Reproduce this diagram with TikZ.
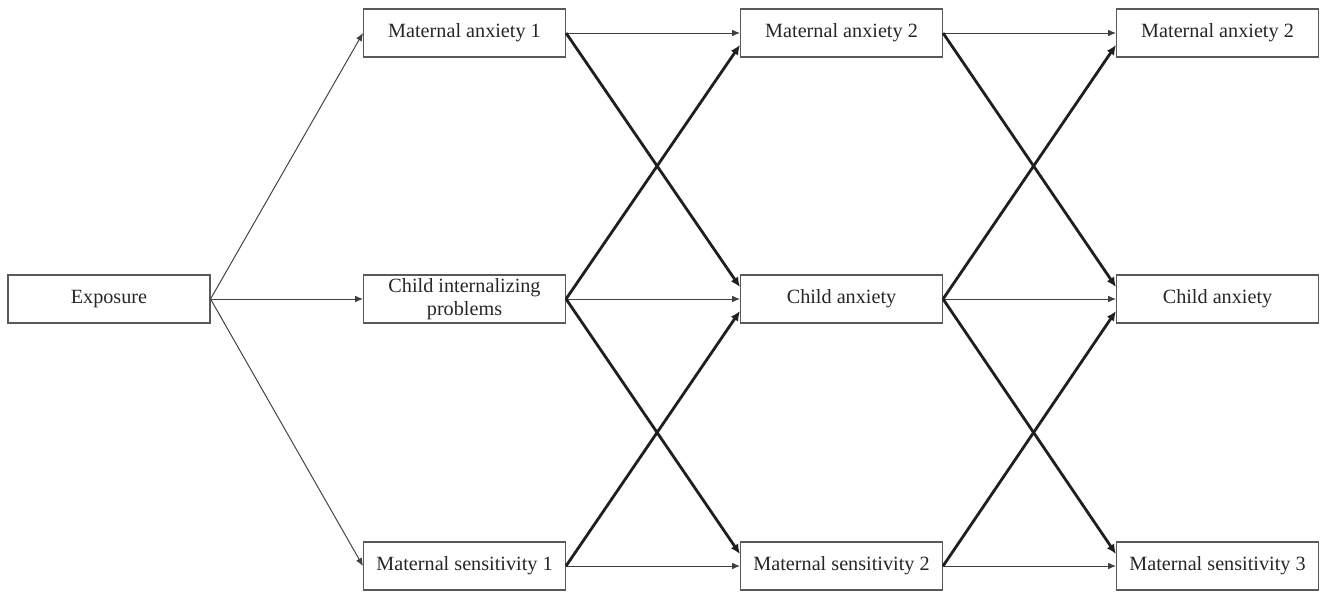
\documentclass[tikz,border=0pt]{standalone}
\usepackage{fontspec}
\setmainfont{Liberation Serif}
\usetikzlibrary{arrows.meta}

\begin{document}
\begin{tikzpicture}[
	x=0.2mm, y=-0.2mm,
	box/.style={ draw=black!65, line width=0.6pt, text=black!85, minimum width=4.04cm, minimum height=0.96cm, inner sep=1pt, align=center, font=\fontsize{11.5}{13}\selectfont },
	lag/.style={ draw=black!75, line width=0.55pt, -{Latex[length=4.5pt,width=3.8pt]} },
	cross/.style={ draw=black!88, line width=1.6pt, -{Latex[length=5.5pt,width=5pt]} }
]
\useasboundingbox (0,0) rectangle (1320,592);

\node at (109,299) (expo) [box] {Exposure};

\node at (464.5,33) (ma1) [box] {Maternal anxiety 1};
\node at (464.5,299) (cip) [box] {Child internalizing\\problems};
\node at (464.5,566) (ms1) [box] {Maternal sensitivity 1};

\node at (841.5,33) (ma2) [box] {Maternal anxiety 2};
\node at (841.5,299) (ca2) [box] {Child anxiety};
\node at (841.5,566) (ms2) [box] {Maternal sensitivity 2};

\node at (1217.5,33) (ma3) [box] {Maternal anxiety 2};
\node at (1217.5,299) (ca3) [box] {Child anxiety};
\node at (1217.5,566) (ms3) [box] {Maternal sensitivity 3};

\foreach \p in {ma1,cip,ms1} \draw[lag] (expo.east) to (\p.west);
\foreach \a/\b in {ma1/ma2,cip/ca2,ms1/ms2,ma2/ma3,ca2/ca3,ms2/ms3} \draw[lag] (\a.east) to (\b.west);

% cross-lagged paths
\foreach \a/\b in {ma1/ca2,cip/ms2,ma2/ca3,ca2/ms3} \draw[cross] (\a.east) to ([yshift=0.24cm]\b.west);
\foreach \a/\b in {cip/ma2,ms1/ca2,ca2/ma3,ms2/ca3} \draw[cross] (\a.east) to ([yshift=-0.24cm]\b.west);

\end{tikzpicture}
\end{document}
